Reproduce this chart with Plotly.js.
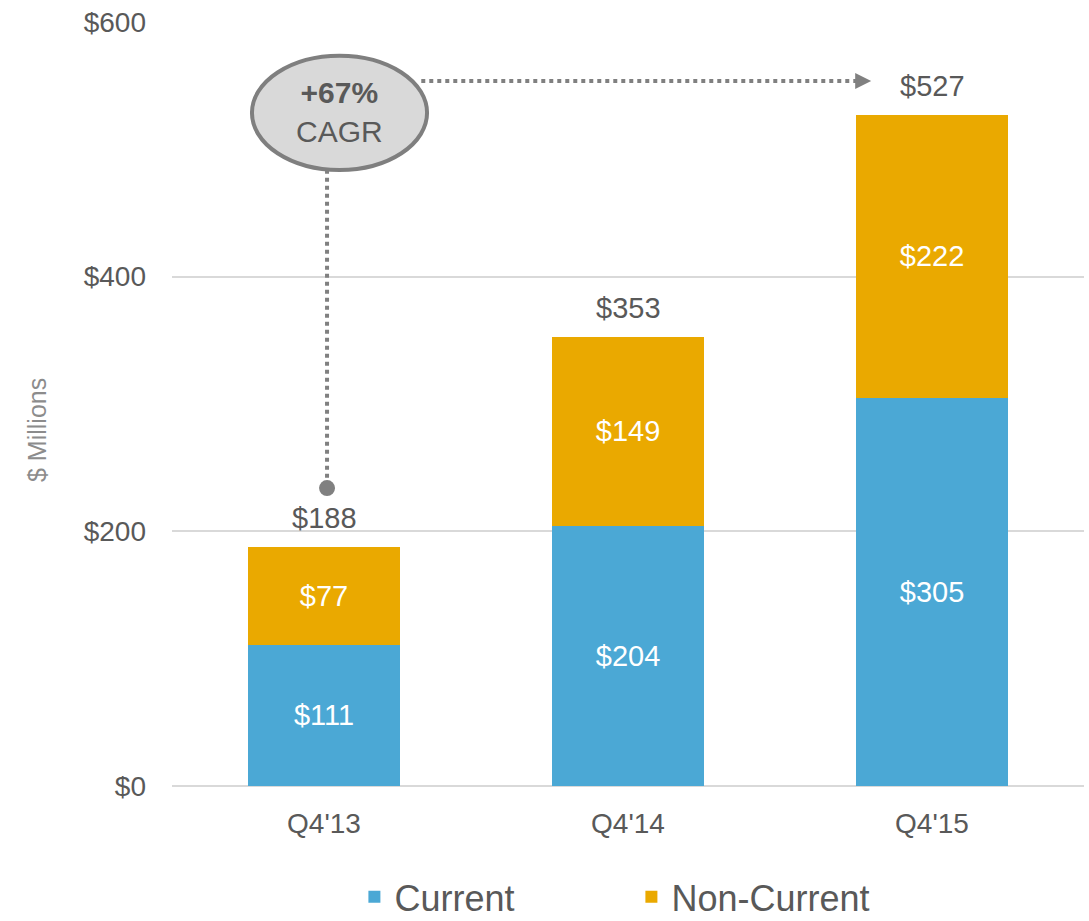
<!DOCTYPE html>
<html>
<head>
<meta charset="utf-8">
<script src="https://cdn.plot.ly/plotly-3.0.1.min.js"></script>
<style>html,body{margin:0;padding:0;background:#fff;}#chart{width:1089px;height:921px;}</style>
</head>
<body>
<div id="chart"></div>
<script>
var categories = ["Q4'13", "Q4'14", "Q4'15"];
var currentValues = [111, 204, 305];
var nonCurrentValues = [77, 149, 222];
var totals = [188, 353, 527];
var cagrText = "<b>+67%</b><br>CAGR";
var yAxisTitle = "$ Millions";
var yTickVals = [0, 200, 400, 600];
var yTickText = ["$0", "$200", "$400", "$600"];

var FONT = "Liberation Sans, Arial, sans-serif";
var GRAY = "#595959";
var ARROW = "#808080";

var traces = [
  {
    type: "bar", name: "Current", x: categories, y: currentValues,
    marker: {color: "#4BA8D5"},
    texttemplate: "$%{y}", textposition: "inside", insidetextanchor: "middle",
    textfont: {color: "#ffffff", size: 29, family: FONT},
    hoverinfo: "skip"
  },
  {
    type: "bar", name: "Non-Current", x: categories, y: nonCurrentValues,
    marker: {color: "#EAA900"},
    texttemplate: "$%{y}", textposition: "inside", insidetextanchor: "middle",
    textfont: {color: "#ffffff", size: 29, family: FONT},
    hoverinfo: "skip"
  }
];

var annotations = categories.map(function (c, i) {
  return {
    x: c, y: totals[i], xref: "x", yref: "y",
    text: "$" + totals[i], showarrow: false,
    yanchor: "bottom", yshift: 11,
    font: {size: 29, color: GRAY, family: FONT}
  };
});
annotations.push({
  x: 0.05, y: 529, xref: "x", yref: "y",
  text: cagrText, showarrow: false,
  font: {size: 30, color: GRAY, family: FONT}
});
annotations.push({
  x: -0.148, y: 0.466, xref: "paper", yref: "paper",
  xanchor: "center", yanchor: "middle",
  text: yAxisTitle, textangle: -90, showarrow: false,
  font: {size: 25, color: "#8C8C8C", family: FONT}
});

var shapes = [
  {type: "line", xref: "x", yref: "y", x0: 0.01, x1: 0.01, y0: 484, y1: 236,
   line: {color: ARROW, width: 4, dash: "dot"}, layer: "above"},
  {type: "circle", xref: "x", yref: "y", xsizemode: "pixel", ysizemode: "pixel",
   xanchor: 0.01, yanchor: 234, x0: -8, x1: 8, y0: -8, y1: 8,
   fillcolor: ARROW, line: {width: 0}},
  {type: "line", xref: "x", yref: "y", x0: 0.32, x1: 1.76, y0: 553.7, y1: 553.7,
   line: {color: ARROW, width: 4, dash: "dot"}},
  {type: "path", xref: "x", yref: "y", xsizemode: "pixel", ysizemode: "pixel",
   xanchor: 1.8, yanchor: 553.7,
   path: "M -16 -8 L 0 0 L -16 8 Z", fillcolor: ARROW, line: {width: 0}},
  {type: "circle", xref: "x", yref: "y", x0: -0.237, x1: 0.339, y0: 483.8, y1: 573.5,
   fillcolor: "#D9D9D9", line: {color: "#7F7F7F", width: 4}, layer: "below"}
];

var layout = {
  width: 1089, height: 921,
  margin: {l: 172, r: 5, t: 22, b: 135, autoexpand: false},
  paper_bgcolor: "#ffffff", plot_bgcolor: "#ffffff",
  barmode: "stack", bargap: 0.5,
  font: {family: FONT, color: GRAY},
  showlegend: true,
  legend: {
    orientation: "h", x: 0.2, xanchor: "left", y: -0.145, yanchor: "middle",
    font: {size: 36, color: GRAY, family: FONT},
    entrywidth: 232, entrywidthmode: "pixels",
    traceorder: "normal", bgcolor: "rgba(0,0,0,0)"
  },
  xaxis: {
    type: "category", range: [-0.5, 2.5],
    showgrid: false, zeroline: false, showline: false, ticks: "",
    tickfont: {size: 28, color: GRAY, family: FONT},
    ticklabelstandoff: 18, fixedrange: true
  },
  yaxis: {
    range: [0, 600], tickvals: yTickVals, ticktext: yTickText,
    showgrid: true, gridcolor: "#D9D9D9", gridwidth: 2,
    zeroline: true, zerolinecolor: "#D9D9D9", zerolinewidth: 2,
    showline: false, ticks: "",
    tickfont: {size: 28, color: GRAY, family: FONT},
    ticklabelstandoff: 25,
    fixedrange: true
  },
  annotations: annotations,
  shapes: shapes
};

Plotly.newPlot("chart", traces, layout, {staticPlot: true, displayModeBar: false});
</script>
</body>
</html>
